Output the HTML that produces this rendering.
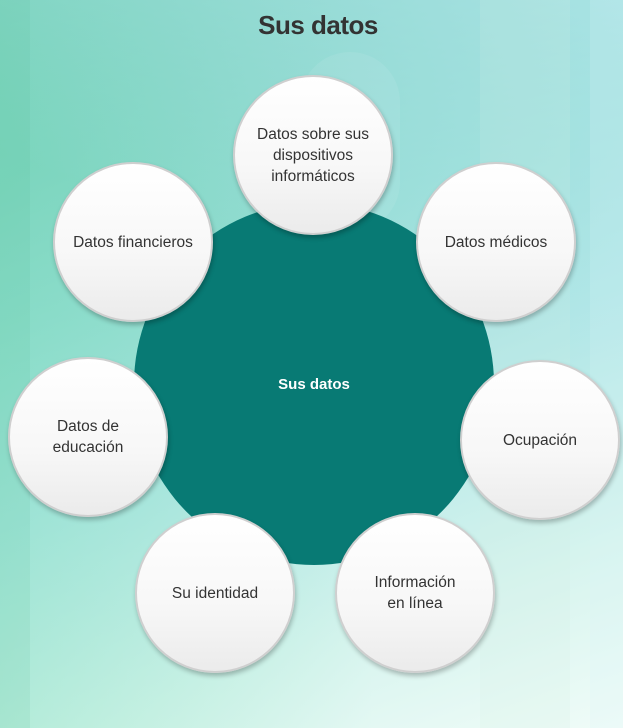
<!DOCTYPE html>
<html><head><meta charset="utf-8"><style>
html,body{margin:0;padding:0}
body{width:623px;height:728px;overflow:hidden;position:relative;font-family:"Liberation Sans",sans-serif;
background:linear-gradient(160deg,#6ec9b6 0%,#94dcd4 35%,#b0e6e6 55%,#d6f4ee 80%,#f0fcf8 100%);}
.bg2{position:absolute;inset:0;background:linear-gradient(90deg,rgba(110,220,170,0.3) 0%,rgba(255,255,255,0) 60%);}
.bg3{position:absolute;inset:0;background:linear-gradient(200deg,rgba(190,235,245,0.6) 0%,rgba(255,255,255,0) 40%);}
.stripe{position:absolute;top:0;height:728px}
h1{position:absolute;top:10px;left:0;width:636px;text-align:center;margin:0;font-size:26px;font-weight:bold;color:#333;letter-spacing:-0.5px}
.big{position:absolute;left:134px;top:203px;width:360px;height:362px;border-radius:50%;background:#087a74;color:#fff;font-weight:bold;font-size:15px;display:flex;align-items:center;justify-content:center}
.c{position:absolute;width:156px;height:156px;border-radius:50%;border:2.5px solid #cfcfcf;background:linear-gradient(180deg,#ffffff 0%,#f7f7f7 60%,#ebebeb 100%);box-shadow:1px 3px 5px rgba(0,0,0,0.25);display:flex;align-items:center;justify-content:center;text-align:center;font-size:15.5px;color:#333;line-height:21px;box-sizing:border-box}
</style></head><body>
<div class="bg2"></div>
<div class="bg3"></div>
<div class="stripe" style="left:0;width:30px;background:rgba(80,190,150,0.12)"></div>
<div class="stripe" style="left:480px;width:90px;background:rgba(210,240,225,0.18)"></div>
<div class="stripe" style="left:590px;width:33px;background:rgba(220,245,250,0.2)"></div>
<div style="position:absolute;left:300px;top:52px;width:100px;height:180px;border-radius:50px;background:rgba(255,255,255,0.08)"></div>
<h1>Sus datos</h1>
<div class="big">Sus datos</div>
<div class="c" style="left:233px;top:75px;width:160px;height:160px">Datos sobre sus<br>dispositivos<br>informáticos</div>
<div class="c" style="left:53px;top:162px;width:160px;height:160px">Datos financieros</div>
<div class="c" style="left:416px;top:162px;width:160px;height:160px">Datos médicos</div>
<div class="c" style="left:8px;top:357px;width:160px;height:160px">Datos de<br>educación</div>
<div class="c" style="left:460px;top:360px;width:160px;height:160px">Ocupación</div>
<div class="c" style="left:135px;top:513px;width:160px;height:160px">Su identidad</div>
<div class="c" style="left:335px;top:513px;width:160px;height:160px">Información<br>en línea</div>
</body></html>
